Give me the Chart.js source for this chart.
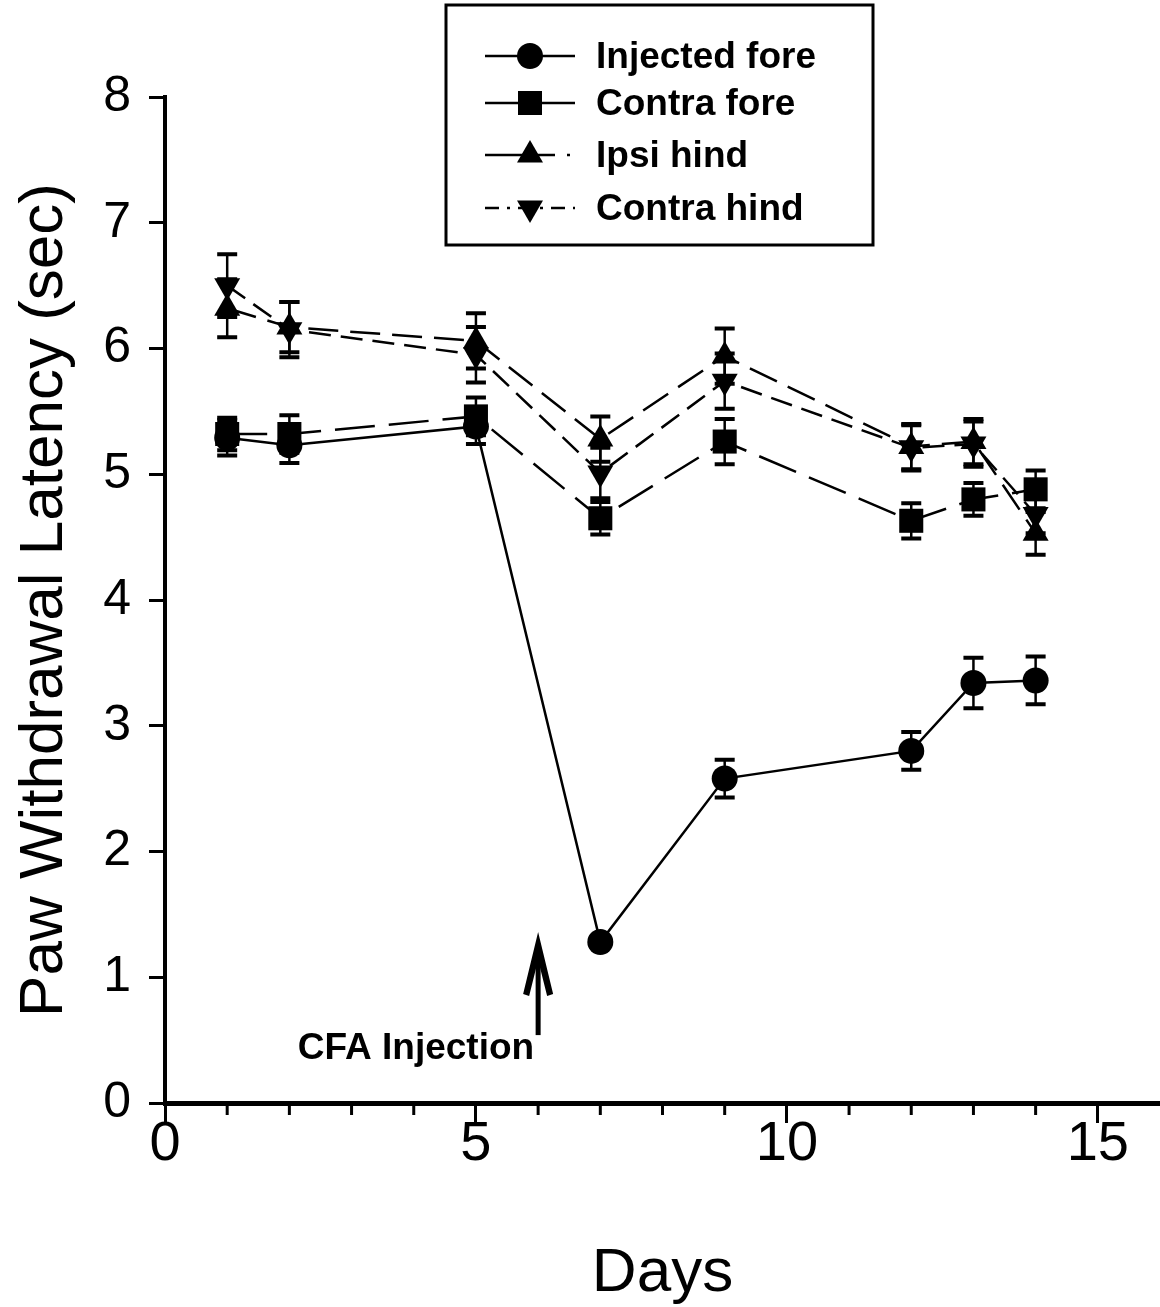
<!DOCTYPE html>
<html lang="en">
  <head>
    <meta charset="UTF-8" />
    <title>Paw Withdrawal Latency</title>
    <style>
      html, body { margin: 0; padding: 0; background: #fff; }
      canvas { display: block; }
    </style>
  </head>
  <body>
    <canvas id="latencyChart" width="1160" height="1307"></canvas>

    <script src="https://cdn.jsdelivr.net/npm/chart.js"></script>
    <script>
      // Days of testing
      const days = [1, 2, 5, 7, 9, 12, 13, 14];

      // Mean latency (sec) per paw
      const injectedFore = [5.29, 5.23, 5.38, 1.28, 2.58, 2.80, 3.34, 3.36];
      const contraFore   = [5.32, 5.32, 5.46, 4.65, 5.26, 4.63, 4.80, 4.88];
      const ipsiHind     = [6.32, 6.17, 6.06, 5.28, 5.94, 5.22, 5.26, 4.53];
      const contraHind   = [6.50, 6.15, 5.95, 5.01, 5.74, 5.21, 5.24, 4.68];

      // Standard error
      const injectedForeErr = [0.14, 0.14, 0.14, 0.04, 0.15, 0.15, 0.20, 0.19];
      const contraForeErr   = [0.13, 0.15, 0.15, 0.13, 0.18, 0.14, 0.13, 0.15];
      const ipsiHindErr     = [0.23, 0.20, 0.22, 0.18, 0.22, 0.18, 0.18, 0.17];
      const contraHindErr   = [0.25, 0.22, 0.22, 0.20, 0.22, 0.18, 0.18, 0.15];

      const seriesLabels = ['Injected fore', 'Contra fore', 'Ipsi hind', 'Contra hind'];
      const xTicks = [0, 5, 10, 15];
      const yTicks = [0, 1, 2, 3, 4, 5, 6, 7, 8];

      // CFA injection given on day 6
      const injectionDay = 6;
      const injectionLabel = 'CFA Injection';

      const FONT = '"Liberation Sans", Arial, Helvetica, sans-serif';
      Chart.defaults.font.family = FONT;
      Chart.defaults.color = '#000';

      function toPoints(values) {
        return values.map((v, i) => ({ x: days[i], y: v }));
      }

      // Vertical error bars with caps
      const errorBars = {
        id: 'errorBars',
        afterDatasetsDraw(chart) {
          const { ctx, scales: { x, y } } = chart;
          ctx.save();
          ctx.strokeStyle = '#000';
          chart.data.datasets.forEach(ds => {
            ds.data.forEach((p, i) => {
              const e = ds.errors[i];
              const px = x.getPixelForValue(p.x);
              const top = y.getPixelForValue(p.y + e);
              const bot = y.getPixelForValue(p.y - e);
              ctx.lineWidth = 2.5;
              ctx.beginPath();
              ctx.moveTo(px, top);
              ctx.lineTo(px, bot);
              ctx.stroke();
              ctx.lineWidth = 4;
              ctx.beginPath();
              ctx.moveTo(px - 10, top);
              ctx.lineTo(px + 10, top);
              ctx.moveTo(px - 10, bot);
              ctx.lineTo(px + 10, bot);
              ctx.stroke();
            });
          });
          ctx.restore();
        }
      };

      // Short ticks for the unlabelled days
      const minorTicks = {
        id: 'minorTicks',
        afterDraw(chart) {
          const { ctx, scales: { x }, chartArea } = chart;
          ctx.save();
          ctx.strokeStyle = '#000';
          ctx.lineWidth = 3;
          for (let d = 1; d < 16; d++) {
            if (d % 5 === 0) continue;
            const px = x.getPixelForValue(d);
            ctx.beginPath();
            ctx.moveTo(px, chartArea.bottom);
            ctx.lineTo(px, chartArea.bottom + 12);
            ctx.stroke();
          }
          ctx.restore();
        }
      };

      // Arrow and label marking the injection day
      const injectionMark = {
        id: 'injectionMark',
        afterDraw(chart) {
          const { ctx, scales: { x, y } } = chart;
          const px = x.getPixelForValue(injectionDay);
          const tip = y.getPixelForValue(1.36);
          const tail = y.getPixelForValue(0.54);
          ctx.save();
          ctx.strokeStyle = '#000';
          ctx.fillStyle = '#000';
          ctx.lineWidth = 5;
          ctx.beginPath();
          ctx.moveTo(px, tail);
          ctx.lineTo(px, tip + 20);
          ctx.stroke();
          ctx.beginPath();
          ctx.moveTo(px, tip);
          ctx.lineTo(px - 15, tip + 62);
          ctx.lineTo(px - 9, tip + 64);
          ctx.lineTo(px, tip + 28);
          ctx.lineTo(px + 9, tip + 64);
          ctx.lineTo(px + 15, tip + 62);
          ctx.closePath();
          ctx.fill();
          ctx.font = 'bold 37px ' + FONT;
          ctx.textAlign = 'right';
          ctx.textBaseline = 'alphabetic';
          ctx.fillText(injectionLabel, px - 4, y.getPixelForValue(0.35));
          ctx.restore();
        }
      };

      // Boxed legend with line sample and marker
      const boxLegend = {
        id: 'boxLegend',
        afterDraw(chart) {
          const { ctx } = chart;
          const box = { left: 446, top: 5, right: 873, bottom: 245 };
          const rows = [56, 103, 155, 208];
          ctx.save();
          ctx.fillStyle = '#fff';
          ctx.fillRect(box.left, box.top, box.right - box.left, box.bottom - box.top);
          ctx.strokeStyle = '#000';
          ctx.lineWidth = 3;
          ctx.strokeRect(box.left, box.top, box.right - box.left, box.bottom - box.top);
          chart.data.datasets.forEach((ds, i) => {
            const cy = rows[i];
            ctx.lineWidth = 2.5;
            ctx.setLineDash(ds.legendDash);
            ctx.beginPath();
            ctx.moveTo(485, cy);
            ctx.lineTo(575, cy);
            ctx.stroke();
            ctx.setLineDash([]);
            ctx.fillStyle = '#000';
            Chart.helpers.drawPoint(ctx, {
              pointStyle: ds.pointStyle,
              rotation: ds.pointRotation || 0,
              radius: ds.pointRadius,
              borderWidth: 0
            }, 530, cy);
            ctx.font = 'bold 37px ' + FONT;
            ctx.textAlign = 'left';
            ctx.textBaseline = 'middle';
            ctx.fillText(ds.label, 596, cy + 2);
          });
          ctx.restore();
        }
      };

      function series(label, values, errors, style) {
        return Object.assign({
          label: label,
          data: toPoints(values),
          errors: errors,
          borderColor: '#000',
          backgroundColor: '#000',
          pointBackgroundColor: '#000',
          pointBorderColor: '#000',
          pointBorderWidth: 0,
          borderWidth: 2.5,
          tension: 0,
          clip: false
        }, style);
      }

      const ctx = document.getElementById('latencyChart').getContext('2d');
      new Chart(ctx, {
        type: 'line',
        data: {
          datasets: [
            series(seriesLabels[0], injectedFore, injectedForeErr,
              { pointStyle: 'circle', pointRadius: 13, borderDash: [], legendDash: [] }),
            series(seriesLabels[1], contraFore, contraForeErr,
              { pointStyle: 'rect', pointRadius: 17, borderDash: [40, 14], legendDash: [] }),
            series(seriesLabels[2], ipsiHind, ipsiHindErr,
              { pointStyle: 'triangle', pointRadius: 15, borderDash: [30, 12], legendDash: [70, 12, 3, 10] }),
            series(seriesLabels[3], contraHind, contraHindErr,
              { pointStyle: 'triangle', pointRotation: 180, rotation: 180, pointRadius: 15,
                borderDash: [22, 10], legendDash: [14, 8, 3, 8] })
          ]
        },
        options: {
          responsive: false,
          devicePixelRatio: 1,
          animation: false,
          // the x axis line runs to the right edge of the canvas
          layout: { autoPadding: false, padding: { top: 97, right: 0, left: 0, bottom: 0 } },
          plugins: {
            legend: { display: false },
            tooltip: { enabled: false }
          },
          scales: {
            x: {
              type: 'linear',
              min: 0,
              max: 16,
              afterFit(scale) {
                scale.height = 204;
                scale.paddingLeft = 0;
                scale.paddingRight = 0;
              },
              afterBuildTicks(scale) {
                scale.ticks = xTicks.map(v => ({ value: v }));
              },
              ticks: {
                font: { size: 56 },
                padding: -12,
                maxRotation: 0,
                autoSkip: false
              },
              grid: {
                drawOnChartArea: false,
                tickLength: 20,
                tickWidth: 3,
                tickColor: '#000'
              },
              border: { color: '#000', width: 5 },
              title: {
                display: true,
                text: 'Days',
                font: { size: 62, lineHeight: 1 },
                padding: { top: 0, bottom: 2 }
              }
            },
            y: {
              min: 0,
              max: 8,
              afterFit(scale) { scale.width = 165; },
              afterBuildTicks(scale) {
                scale.ticks = yTicks.map(v => ({ value: v }));
              },
              ticks: {
                font: { size: 50 },
                padding: 18
              },
              grid: {
                drawOnChartArea: false,
                tickLength: 16,
                tickWidth: 3,
                tickColor: '#000'
              },
              border: { color: '#000', width: 4 },
              title: {
                display: true,
                text: 'Paw Withdrawal Latency (sec)',
                font: { size: 62, lineHeight: 1 },
                padding: { top: 14, bottom: 0 }
              }
            }
          }
        },
        plugins: [errorBars, minorTicks, injectionMark, boxLegend]
      });
    </script>
  </body>
</html>
